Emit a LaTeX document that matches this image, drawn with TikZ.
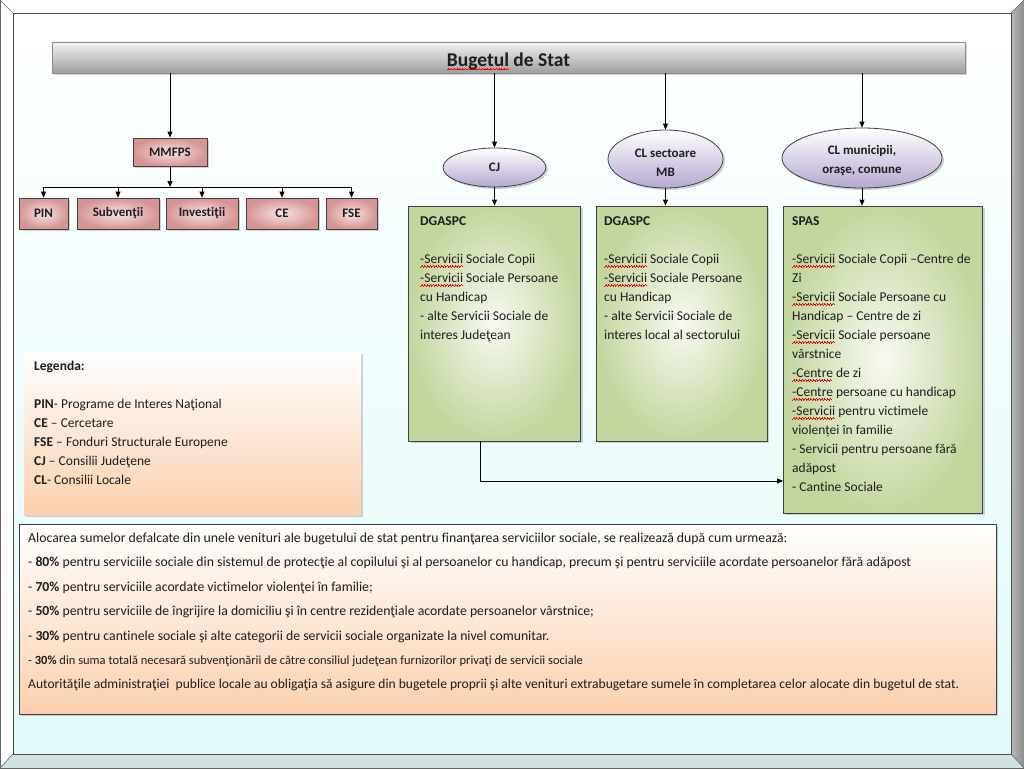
\documentclass[tikz,border=0pt]{standalone}
\usepackage{fontspec}
\setmainfont[Ligatures={NoCommon,NoContextual}]{Carlito}
\usetikzlibrary{shapes.geometric,shadows,arrows.meta}
\definecolor{pinkL}{HTML}{F8E4E4}
\definecolor{pinkD}{HTML}{D69494}
\definecolor{grnL}{HTML}{F8FAF2}
\definecolor{grnD}{HTML}{C3D69E}
\definecolor{lavD}{HTML}{B5A8D0}
\definecolor{peach}{HTML}{FBD0AE}
\definecolor{cyanL}{HTML}{E2FAFB}
\definecolor{bevB}{HTML}{D2E1E1}
\definecolor{txt}{HTML}{1E1E1E}
\newsavebox{\sqb}
\newcommand\sqg[1]{\sbox\sqb{#1}\rlap{\textcolor{red}{\leaders\hbox{\rule[-3.4pt]{0.7pt}{0.6pt}\rule[-2.8pt]{0.7pt}{0.6pt}\rule[-2.2pt]{0.7pt}{0.6pt}\rule[-2.8pt]{0.7pt}{0.6pt}}\hskip\wd\sqb}}\usebox\sqb}
\begin{document}
\begin{tikzpicture}[x=1pt,y=-1pt,
  arr/.style={-{Triangle[length=6pt,width=5pt]},line width=0.9pt,black},
  plain/.style={line width=0.9pt,black},
  shad/.style={drop shadow={shadow xshift=2pt,shadow yshift=-2pt,opacity=0.35}},
  barbox/.style={draw=black!45,line width=0.6pt,top color=black!5,bottom color=black!38,
     minimum width=913,minimum height=31,inner sep=0,shad,text height=17.6pt,text depth=0pt,
     font=\bfseries\fontsize{19.5}{22}\selectfont,text=txt},
  pbox/.style={draw=black!75,line width=0.8pt,inner color=pinkL,outer color=pinkD,
     minimum height=31,inner sep=0,shad,font=\bfseries\fontsize{13}{15}\selectfont,text=txt},
  ell/.style={ellipse,draw=black!75,line width=0.8pt,top color=white,bottom color=lavD,
     inner sep=0,shad,align=center,font=\bfseries\fontsize{13}{19}\selectfont,text=txt},
  gbox/.style={draw=black!75,line width=0.8pt,inner color=grnL,outer color=grnD,inner sep=0,shad},
  legbox/.style={top color=white,bottom color=peach,inner sep=0,shad},
  botbox/.style={draw=black!75,line width=0.8pt,top color=white,bottom color=peach,inner sep=0,shad},
  boxtext/.style={anchor=north west,inner sep=0,align=left,text=txt,font=\fontsize{13.5}{19}\selectfont},
  bottext/.style={anchor=north west,inner sep=0,align=left,text=txt,font=\fontsize{13.75}{24.4}\selectfont}
]
\useasboundingbox (0,0) rectangle (1024,768);
% frame
\fill[white] (0,0) rectangle (1024,768);
\shade[top color=white,middle color=white,bottom color=cyanL] (13,13) rectangle (1011,754);
\shade[left color=black!28,right color=black!45] (1011,13) -- (1024,0) -- (1024,768) -- (1011,754) -- cycle;
\fill[bevB] (0,768) -- (13,754) -- (1011,754) -- (1024,768) -- cycle;
\draw[black!60,line width=1pt] (0,0) rectangle (1024,768);
\draw[black!70,line width=0.8pt] (13,13) rectangle (1011,754);
\draw[black!60,line width=0.6pt] (0,0) -- (13,13) (1024,0) -- (1011,13) (0,768) -- (13,754) (1024,768) -- (1011,754);

% top bar
\node[barbox] (bar) at (508.5,57.5) {\sqg{Bugetul} de Stat};

% MMFPS branch
\node[pbox,minimum width=74,minimum height=28] (mmfps) at (170,152) {MMFPS};
\node[pbox,minimum width=49] (pin) at (43.5,213.5) {PIN};
\node[pbox,minimum width=82] (sub) at (118,213.5) {Subvenţii};
\node[pbox,minimum width=72] (inv) at (202,213.5) {Investiţii};
\node[pbox,minimum width=72] (ce) at (282,213.5) {CE};
\node[pbox,minimum width=51] (fse) at (351.5,213.5) {FSE};
\coordinate (bus) at (170,187);
\draw[arr] (bar.south -| mmfps.north) -- (mmfps.north);
\draw[arr] (mmfps.south) -- (bus);
\draw[plain] (bus -| pin) -- (bus -| fse);
\foreach \n in {pin,sub,inv,ce,fse} \draw[arr] (bus -| \n) -- (\n.north);

% ellipses
\node[ell,minimum width=103,minimum height=39] (cj) at (494.5,167.5) {CJ};
\node[ell,minimum width=115,minimum height=58] (cls) at (665.5,159) {\rule{0pt}{15pt}CL sectoare\\MB};
\node[ell,minimum width=160,minimum height=60] (clm) at (862,158) {\rule{0pt}{14.5pt}CL municipii,\\oraşe, comune};

% green boxes
\node[gbox,minimum width=172,minimum height=235] (dg1) at (494.5,323.5) {};
\node[gbox,minimum width=171,minimum height=235] (dg2) at (681.5,323.5) {};
\node[gbox,minimum width=199,minimum height=307] (spas) at (883,359.5) {};

\draw[arr] (bar.south -| cj.north) -- (cj.north);
\draw[arr] (bar.south -| cls.north) -- (cls.north);
\draw[arr] (bar.south -| clm.north) -- (clm.north);
\draw[arr] (cj.south) -- (cj.south |- dg1.north);
\draw[arr] (cls.south) -- (cls.south |- dg2.north);
\draw[arr] (clm.south) -- (clm.south |- spas.north);
\coordinate (elbow) at (480,481);
\draw[arr] (dg1.south -| elbow) |- (elbow -| spas.west);

\node[boxtext] (dg1t) at (420,212.2) {\strut\textbf{DGASPC}\\ \\
\sqg{-Servicii} Sociale Copii\\
\sqg{-Servicii} Sociale Persoane\\
cu Handicap\\
- alte Servicii Sociale de\\
interes Judeţean};
\node[boxtext] (dg2t) at (604,212.2) {\strut\textbf{DGASPC}\\ \\
\sqg{-Servicii} Sociale Copii\\
\sqg{-Servicii} Sociale Persoane\\
cu Handicap\\
- alte Servicii Sociale de\\
interes local al sectorului};
\node[boxtext] (spast) at (792,212.2) {\strut\textbf{SPAS}\\ \\
\sqg{-Servicii} Sociale Copii –Centre de\\
Zi\\
\sqg{-Servicii} Sociale Persoane cu\\
Handicap – Centre de zi\\
\sqg{-Servicii} Sociale persoane\\
vârstnice\\
\sqg{-Centre} de zi\\
\sqg{-Centre} persoane cu handicap\\
\sqg{-Servicii} pentru victimele\\
violenței în familie\\
- Servicii pentru persoane fără\\
adăpost\\
- Cantine Sociale};

% legend
\node[legbox,minimum width=337,minimum height=163] (leg) at (192.5,433.5) {};
\node[boxtext] (legt) at (34,357.2) {\strut\textbf{Legenda:}\\ \\
\textbf{PIN}- Programe de Interes Naţional\\
\textbf{CE} – Cercetare\\
\textbf{FSE} – Fonduri Structurale Europene\\
\textbf{CJ} – Consilii Judeţene\\
\textbf{CL}- Consilii Locale};

% bottom box
\node[botbox,minimum width=977,minimum height=190] (bot) at (507.5,619) {};
\node[bottext] (bott) at (28,525.2) {\strut Alocarea sumelor defalcate din unele venituri ale bugetului de stat pentru finanţarea serviciilor sociale, se realizează după cum urmează:\\
- \textbf{80\%} pentru serviciile sociale din sistemul de protecţie al copilului şi al persoanelor cu handicap, precum şi pentru serviciile acordate persoanelor fără adăpost\\
- \textbf{70\%} pentru serviciile acordate victimelor violenţei în familie;\\
- \textbf{50\%} pentru serviciile de îngrijire la domiciliu şi în centre rezidenţiale acordate persoanelor vârstnice;\\
- \textbf{30\%} pentru cantinele sociale şi alte categorii de servicii sociale organizate la nivel comunitar.\\
{\fontsize{12.5}{13}\selectfont - \textbf{30\%} din suma totală necesară subvenţionării de către consiliul judeţean furnizorilor privaţi de servicii sociale}\\
{\fontsize{13.55}{14}\selectfont Autorităţile administraţiei\ \ publice locale au obligaţia să asigure din bugetele proprii şi alte venituri extrabugetare sumele în completarea celor alocate din bugetul de stat.}};
\end{tikzpicture}
\end{document}
